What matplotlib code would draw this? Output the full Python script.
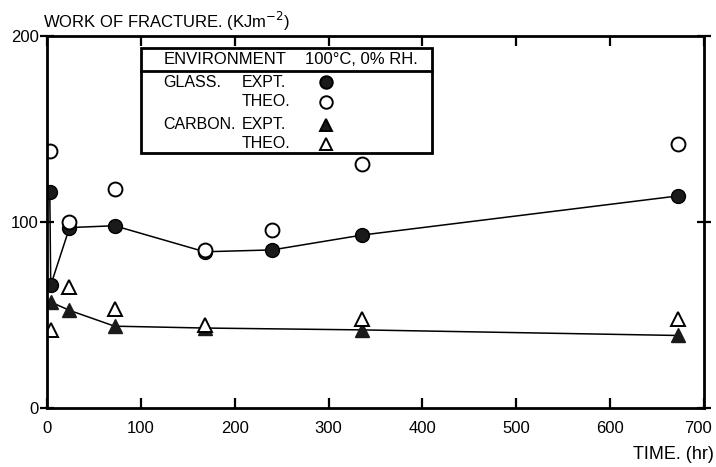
import matplotlib
matplotlib.use("Agg")
import matplotlib.pyplot as plt
import matplotlib.transforms as mtransforms
from matplotlib.patches import Rectangle
from matplotlib.lines import Line2D

plt.rcParams["font.family"] = ["Liberation Sans", "DejaVu Sans"]

# glass fibre composite, work of fracture (kJ/m^2) vs time (hr)
glass_expt_t = [3, 4, 24, 72, 168, 240, 336, 672]
glass_expt_w = [116, 66, 97, 98, 84, 85, 93, 114]
glass_theo_t = [3, 24, 72, 168, 240, 336, 672]
glass_theo_w = [138, 100, 117.5, 85, 95.5, 131, 142]

# carbon fibre composite
carbon_expt_t = [4, 24, 72, 168, 336, 672]
carbon_expt_w = [57, 52.5, 44, 43, 42, 39]
carbon_theo_t = [4, 24, 72, 168, 336, 672]
carbon_theo_w = [42, 65, 53.5, 44.5, 48, 48]

x_ticks = [0, 100, 200, 300, 400, 500, 600, 700]
y_ticks = [0, 100, 200]

fig = plt.figure(figsize=(7.16, 4.67), dpi=100)
ax = fig.add_axes([0.0656, 0.1263, 0.9176, 0.7966])

ms = 10
ax.plot(glass_expt_t, glass_expt_w, "-", color="black", lw=1.1)
ax.plot(glass_expt_t, glass_expt_w, "o", color="#1a1a1a", ms=ms, mec="black")
ax.plot(glass_theo_t, glass_theo_w, "o", mfc="white", mec="black", ms=ms, mew=1.4)
ax.plot(carbon_expt_t, carbon_expt_w, "-", color="black", lw=1.1)
ax.plot(carbon_expt_t, carbon_expt_w, "^", color="#1a1a1a", ms=ms)
ax.plot(carbon_theo_t, carbon_theo_w, "^", mfc="white", mec="black", ms=ms, mew=1.4)

ax.set_xlim(0, 700)
ax.set_ylim(0, 200)
ax.set_xticks(x_ticks)
ax.set_yticks(y_ticks)
ax.tick_params(axis="x", direction="in", length=7, width=1.6, labelsize=12,
               pad=9, top=True)
ax.tick_params(axis="y", direction="inout", length=10, width=1.6,
               labelsize=12, pad=1, right=True)
for s in ax.spines.values():
    s.set_linewidth(2)
    s.set_color("black")

# last x label sits at the figure edge, nudge it left a little
last = ax.get_xticklabels()[-1]
last.set_transform(last.get_transform() +
                   mtransforms.ScaledTranslation(-6 / 100, 0, fig.dpi_scale_trans))

fig.text(0.06, 0.955, "WORK OF FRACTURE. (KJm$^{-2}$)", fontsize=12,
         ha="left", va="center")
fig.text(0.997, 0.026, "TIME. (hr)", fontsize=13, ha="right", va="center")

# legend box
box = Rectangle((0.143, 0.685), 0.443, 0.283, transform=ax.transAxes,
                fill=True, fc="white", ec="black", lw=2, zorder=5)
ax.add_patch(box)
ax.plot([0.143, 0.586], [0.906, 0.906], transform=ax.transAxes,
        color="black", lw=2, zorder=6)
ax.text(0.177, 0.937, "ENVIRONMENT", transform=ax.transAxes, fontsize=12,
        va="center", zorder=6)
ax.text(0.393, 0.937, "100°C, 0% RH.", transform=ax.transAxes, fontsize=12,
        va="center", zorder=6)

rows = [
    ("GLASS.", "EXPT.", "o", "#1a1a1a", 0.876),
    ("", "THEO.", "o", "white", 0.823),
    ("CARBON.", "EXPT.", "^", "#1a1a1a", 0.761),
    ("", "THEO.", "^", "white", 0.710),
]
for grp, kind, mk, fc, yy in rows:
    if grp:
        ax.text(0.177, yy, grp, transform=ax.transAxes, fontsize=11.5,
                va="center", zorder=6)
    ax.text(0.297, yy, kind, transform=ax.transAxes, fontsize=11.5,
            va="center", zorder=6)
    ax.add_line(Line2D([0.425], [yy], marker=mk, ms=9, mfc=fc, mec="black",
                       mew=1.4, transform=ax.transAxes, zorder=7))

fig.savefig("out.png", dpi=100)
